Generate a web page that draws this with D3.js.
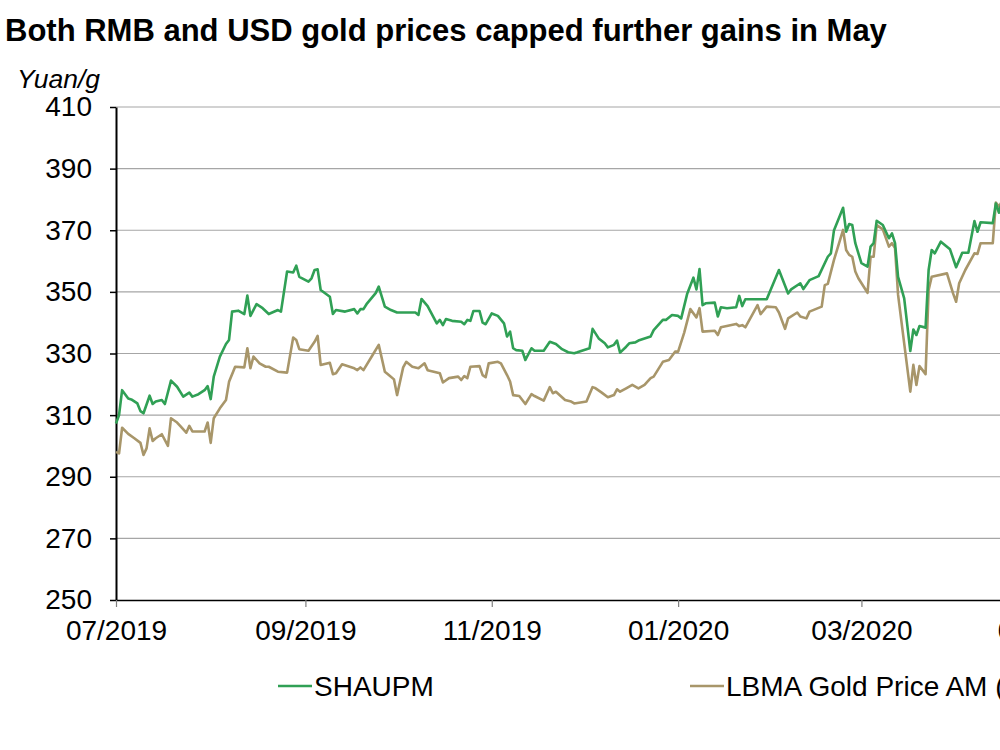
<!DOCTYPE html>
<html>
<head>
<meta charset="utf-8">
<script src="https://cdn.jsdelivr.net/npm/d3@7"></script>
<style>
  body { margin: 0; background: #fff; }
  svg { display: block; font-family: "Liberation Sans", Arial, sans-serif; }
</style>
</head>
<body>
<svg id="chart" width="1000" height="750"></svg>
<script>
// SHAUPM (Yuan/g)
const shaupm = [
  ["2019-07-01", 307.3], ["2019-07-02", 310], ["2019-07-03", 318.1], ["2019-07-05", 315.4],
  ["2019-07-06", 315.1], ["2019-07-08", 313.8], ["2019-07-09", 311.3], ["2019-07-10", 310.6],
  ["2019-07-12", 316.3], ["2019-07-13", 313.6], ["2019-07-14", 314.4], ["2019-07-16", 314.9],
  ["2019-07-17", 313.6], ["2019-07-19", 321.2], ["2019-07-21", 319.2], ["2019-07-23", 316],
  ["2019-07-25", 317.3], ["2019-07-26", 316], ["2019-07-28", 316.8], ["2019-07-30", 318.1],
  ["2019-07-31", 319.4], ["2019-08-01", 315.2], ["2019-08-02", 322.5], ["2019-08-04", 329],
  ["2019-08-06", 333.1], ["2019-08-07", 334.4], ["2019-08-08", 343.6], ["2019-08-10", 343.9],
  ["2019-08-12", 342.8], ["2019-08-13", 348.8], ["2019-08-14", 342.2], ["2019-08-16", 346],
  ["2019-08-18", 344.7], ["2019-08-20", 342.8], ["2019-08-23", 344.1], ["2019-08-24", 343.6],
  ["2019-08-26", 356.6], ["2019-08-28", 356.3], ["2019-08-29", 358.5], ["2019-08-30", 354.9],
  ["2019-09-02", 353.3], ["2019-09-03", 354.4], ["2019-09-04", 357.1], ["2019-09-05", 357.3],
  ["2019-09-06", 350.6], ["2019-09-09", 348.4], ["2019-09-10", 342.8], ["2019-09-11", 344.1],
  ["2019-09-14", 343.6], ["2019-09-17", 344.4], ["2019-09-18", 343], ["2019-09-19", 344.4],
  ["2019-09-20", 344.4], ["2019-09-21", 346], ["2019-09-24", 349.6], ["2019-09-25", 351.7],
  ["2019-09-27", 345.2], ["2019-09-29", 344.1], ["2019-10-01", 343.3], ["2019-10-02", 343.3],
  ["2019-10-07", 343.3], ["2019-10-08", 342.5], ["2019-10-09", 347.7], ["2019-10-11", 345.4],
  ["2019-10-14", 339.8], ["2019-10-15", 340.9], ["2019-10-16", 339.2], ["2019-10-17", 341.2],
  ["2019-10-19", 340.6], ["2019-10-22", 340.3], ["2019-10-23", 339.5], ["2019-10-24", 340.9],
  ["2019-10-25", 340.6], ["2019-10-26", 343.8], ["2019-10-28", 343.8], ["2019-10-29", 340],
  ["2019-10-30", 339.5], ["2019-11-01", 343], ["2019-11-03", 342.2], ["2019-11-05", 339.8],
  ["2019-11-06", 335.5], ["2019-11-07", 337.1], ["2019-11-08", 331.7], ["2019-11-09", 331.1],
  ["2019-11-11", 330.9], ["2019-11-12", 327.9], ["2019-11-14", 331.7], ["2019-11-15", 330.9],
  ["2019-11-18", 330.9], ["2019-11-20", 333.8], ["2019-11-22", 333.1], ["2019-11-24", 331.4],
  ["2019-11-26", 330.4], ["2019-11-28", 330.1], ["2019-11-29", 330.4], ["2019-12-03", 331.7],
  ["2019-12-04", 338], ["2019-12-06", 334.9], ["2019-12-08", 333.3], ["2019-12-09", 332],
  ["2019-12-11", 332.8], ["2019-12-12", 334.2], ["2019-12-13", 330.3], ["2019-12-15", 332.2],
  ["2019-12-16", 333.3], ["2019-12-18", 333.6], ["2019-12-19", 334.2], ["2019-12-23", 335.5],
  ["2019-12-24", 337.6], ["2019-12-27", 340.9], ["2019-12-28", 340.9], ["2019-12-30", 342.5],
  ["2020-01-01", 342.2], ["2020-01-02", 341.4], ["2020-01-04", 349.5], ["2020-01-06", 354.6],
  ["2020-01-07", 350.8], ["2020-01-08", 357.4], ["2020-01-09", 345.7], ["2020-01-10", 346.3],
  ["2020-01-13", 346.5], ["2020-01-14", 342], ["2020-01-15", 345], ["2020-01-17", 344.7],
  ["2020-01-20", 345], ["2020-01-21", 348.7], ["2020-01-22", 345.4], ["2020-01-23", 347.6],
  ["2020-01-30", 347.6], ["2020-02-03", 357.1], ["2020-02-06", 349.5], ["2020-02-07", 350.8],
  ["2020-02-10", 352.8], ["2020-02-11", 350.9], ["2020-02-13", 353.8], ["2020-02-16", 355.1],
  ["2020-02-19", 361.4], ["2020-02-20", 362.5], ["2020-02-21", 369.9], ["2020-02-24", 377.3],
  ["2020-02-25", 369.5], ["2020-02-26", 372], ["2020-02-27", 371.7], ["2020-02-28", 365.8],
  ["2020-03-01", 359.3], ["2020-03-03", 358.2], ["2020-03-04", 364.7], ["2020-03-05", 365.8],
  ["2020-03-06", 373.1], ["2020-03-08", 371.7], ["2020-03-10", 367.4], ["2020-03-11", 369],
  ["2020-03-12", 365.8], ["2020-03-13", 354.9], ["2020-03-15", 347.9], ["2020-03-17", 330.8],
  ["2020-03-18", 337.8], ["2020-03-19", 336], ["2020-03-20", 338.9], ["2020-03-22", 338.4],
  ["2020-03-23", 357.1], ["2020-03-24", 363.6], ["2020-03-25", 362.5], ["2020-03-27", 366.3],
  ["2020-03-30", 363.8], ["2020-04-01", 358], ["2020-04-02", 360.3], ["2020-04-03", 362.7],
  ["2020-04-05", 362.7], ["2020-04-07", 373], ["2020-04-08", 369.5], ["2020-04-09", 372.6],
  ["2020-04-13", 372.3], ["2020-04-14", 378.7], ["2020-04-15", 375.7], ["2020-04-16", 379.3],
  ["2020-04-17", 378], ["2020-04-20", 381]
];

// LBMA Gold Price AM, read against the left axis
const lbma = [
  ["2019-07-01", 298.1], ["2019-07-02", 297.6], ["2019-07-03", 305.9], ["2019-07-05", 303.9],
  ["2019-07-07", 302.5], ["2019-07-09", 301], ["2019-07-10", 297.1], ["2019-07-11", 299.2],
  ["2019-07-12", 305.7], ["2019-07-13", 301.6], ["2019-07-14", 302.5], ["2019-07-16", 303.8],
  ["2019-07-18", 300], ["2019-07-19", 309], ["2019-07-21", 307.6], ["2019-07-22", 306.5],
  ["2019-07-24", 304.3], ["2019-07-25", 306.5], ["2019-07-26", 304.7], ["2019-07-28", 304.7],
  ["2019-07-30", 304.7], ["2019-07-31", 307.6], ["2019-08-01", 301], ["2019-08-02", 309],
  ["2019-08-04", 312.2], ["2019-08-06", 314.9], ["2019-08-07", 320.8], ["2019-08-09", 325.7],
  ["2019-08-12", 325.5], ["2019-08-13", 331.7], ["2019-08-14", 325.2], ["2019-08-15", 329],
  ["2019-08-17", 326.8], ["2019-08-19", 325.7], ["2019-08-20", 325.7], ["2019-08-23", 324.1],
  ["2019-08-26", 323.8], ["2019-08-28", 335.2], ["2019-08-29", 334.4], ["2019-08-30", 331.4],
  ["2019-09-02", 330.9], ["2019-09-04", 333.8], ["2019-09-05", 335.7], ["2019-09-06", 326.3],
  ["2019-09-09", 327], ["2019-09-10", 323.3], ["2019-09-11", 323.6], ["2019-09-13", 326.5],
  ["2019-09-17", 325.2], ["2019-09-18", 324.6], ["2019-09-19", 325.5], ["2019-09-20", 324.6],
  ["2019-09-23", 329.5], ["2019-09-25", 332.8], ["2019-09-27", 324.1], ["2019-09-28", 323.3],
  ["2019-09-30", 321.6], ["2019-10-01", 316.5], ["2019-10-03", 325.5], ["2019-10-04", 327.3],
  ["2019-10-06", 325.7], ["2019-10-08", 325.2], ["2019-10-10", 326.8], ["2019-10-11", 324.6],
  ["2019-10-15", 323.6], ["2019-10-16", 320.6], ["2019-10-18", 322], ["2019-10-21", 322.5],
  ["2019-10-22", 321.4], ["2019-10-23", 322.7], ["2019-10-24", 322], ["2019-10-25", 325.7],
  ["2019-10-28", 325.9], ["2019-10-29", 323], ["2019-10-30", 322.3], ["2019-10-31", 326.8],
  ["2019-11-03", 327.3], ["2019-11-04", 326.8], ["2019-11-06", 323], ["2019-11-07", 320.9],
  ["2019-11-08", 316.5], ["2019-11-10", 316.2], ["2019-11-12", 313.6], ["2019-11-14", 316.8],
  ["2019-11-15", 316.2], ["2019-11-18", 314.7], ["2019-11-20", 319.1], ["2019-11-21", 317.1],
  ["2019-11-22", 317.6], ["2019-11-25", 314.9], ["2019-11-27", 314.4], ["2019-11-28", 313.8],
  ["2019-12-02", 314.4], ["2019-12-04", 319.1], ["2019-12-05", 318.7], ["2019-12-07", 317.3],
  ["2019-12-09", 315.8], ["2019-12-11", 316.5], ["2019-12-12", 318.4], ["2019-12-13", 317.6],
  ["2019-12-15", 318.7], ["2019-12-17", 319.8], ["2019-12-19", 318.7], ["2019-12-21", 319.8],
  ["2019-12-23", 322], ["2019-12-24", 322.5], ["2019-12-27", 327.3], ["2019-12-29", 327.9],
  ["2019-12-31", 330.6], ["2020-01-01", 330.6], ["2020-01-03", 336.8], ["2020-01-05", 344.4],
  ["2020-01-07", 341.7], ["2020-01-08", 344.7], ["2020-01-09", 337.1], ["2020-01-13", 337.4],
  ["2020-01-14", 336], ["2020-01-15", 338.5], ["2020-01-20", 339.6], ["2020-01-21", 338.9],
  ["2020-01-22", 339.2], ["2020-01-23", 338.5], ["2020-01-27", 345.7], ["2020-01-28", 342.8],
  ["2020-01-30", 345.2], ["2020-02-02", 345], ["2020-02-03", 343.3], ["2020-02-05", 338],
  ["2020-02-06", 341.4], ["2020-02-09", 343.3], ["2020-02-10", 342], ["2020-02-12", 341.4],
  ["2020-02-13", 343.6], ["2020-02-17", 345.2], ["2020-02-18", 352.2], ["2020-02-19", 352.6],
  ["2020-02-21", 360.3], ["2020-02-24", 370.1], ["2020-02-25", 363.6], ["2020-02-26", 362],
  ["2020-02-27", 361.4], ["2020-02-28", 356.6], ["2020-02-29", 354.4], ["2020-03-03", 349.7],
  ["2020-03-04", 361.4], ["2020-03-05", 361.4], ["2020-03-06", 371.7], ["2020-03-08", 370.3],
  ["2020-03-10", 364.7], ["2020-03-11", 365.8], ["2020-03-12", 364.2], ["2020-03-13", 349],
  ["2020-03-15", 333.3], ["2020-03-17", 317.6], ["2020-03-18", 326.3], ["2020-03-19", 319.8],
  ["2020-03-20", 325.9], ["2020-03-22", 323.3], ["2020-03-23", 350.6], ["2020-03-24", 354.9],
  ["2020-03-29", 356], ["2020-03-31", 349.5], ["2020-04-01", 346.8], ["2020-04-02", 352.8],
  ["2020-04-04", 357.1], ["2020-04-07", 362.5], ["2020-04-08", 362.3], ["2020-04-09", 365.8],
  ["2020-04-13", 365.8], ["2020-04-14", 379], ["2020-04-15", 377.7], ["2020-04-16", 379.3],
  ["2020-04-17", 378], ["2020-04-20", 380]
];

const yTicks = [250, 270, 290, 310, 330, 350, 370, 390, 410];
const xDomain = ["2019-07-01", "2020-05-31"];
const seriesNames = ["SHAUPM", "LBMA Gold Price AM (USD/oz, RHS)"];
const seriesColors = ["#30a055", "#a8966a"];

const parse = d3.timeParse("%Y-%m-%d");
const svg = d3.select("#chart");

const x = d3.scaleTime()
  .domain(xDomain.map(parse))
  .range([116, 116 + 335 * 3.055]);

const y = d3.scaleLinear()
  .domain([250, 410])
  .range([600, 107]);

// Title
svg.append("text")
  .attr("x", 5)
  .attr("y", 41)
  .style("font-size", "31px")
  .style("font-weight", "bold")
  .style("fill", "#000")
  .text("Both RMB and USD gold prices capped further gains in May");

// Unit label
svg.append("text")
  .attr("x", 17)
  .attr("y", 88)
  .style("font-size", "26.5px")
  .style("font-style", "italic")
  .text("Yuan/g");

// Grid lines
svg.append("g")
  .selectAll("line")
  .data(yTicks.slice(1))
  .join("line")
  .attr("x1", 116)
  .attr("x2", 1000)
  .attr("y1", d => y(d))
  .attr("y2", d => y(d))
  .style("stroke", "#a6a6a6")
  .style("stroke-width", 1.2);

// Y axis
const yAxis = svg.append("g")
  .attr("transform", "translate(116,0)")
  .call(d3.axisLeft(y).tickValues(yTicks).tickSize(6).tickPadding(18).tickSizeOuter(0));
yAxis.select(".domain").style("stroke", "#000").style("stroke-width", 2);
yAxis.selectAll(".tick line").style("stroke", "#000").style("stroke-width", 1.5);
yAxis.selectAll(".tick text")
  .style("font-size", "28px")
  .style("font-family", "'Liberation Sans', Arial, sans-serif")
  .style("fill", "#000");

// X axis
const xAxis = svg.append("g")
  .attr("transform", "translate(0,600)")
  .call(d3.axisBottom(x)
    .ticks(d3.timeMonth.every(2))
    .tickFormat(d3.timeFormat("%m/%Y"))
    .tickSize(7)
    .tickPadding(13)
    .tickSizeOuter(0));
xAxis.select(".domain").style("stroke", "#000").style("stroke-width", 1.5);
xAxis.selectAll(".tick line").style("stroke", "#7f7f7f").style("stroke-width", 1.2);
xAxis.selectAll(".tick text")
  .style("font-size", "28px")
  .style("font-family", "'Liberation Sans', Arial, sans-serif")
  .style("fill", "#000");

// Lines
const line = d3.line()
  .x(d => x(parse(d[0])))
  .y(d => y(d[1]));

[lbma, shaupm].forEach((data, i) => {
  svg.append("path")
    .datum(data)
    .attr("d", line)
    .style("fill", "none")
    .style("stroke", i === 0 ? seriesColors[1] : seriesColors[0])
    .style("stroke-width", 2.6)
    .style("stroke-linejoin", "round");
});

// Legend
const legendX = [278, 690];
const legend = svg.append("g");
seriesNames.forEach((name, i) => {
  const g = legend.append("g").attr("transform", `translate(${legendX[i]},686)`);
  g.append("line")
    .attr("x1", 0).attr("x2", 34)
    .attr("y1", 0).attr("y2", 0)
    .style("stroke", seriesColors[i])
    .style("stroke-width", 2.6);
  g.append("text")
    .attr("x", 36)
    .attr("y", 10)
    .style("font-size", "28px")
    .text(name);
});
</script>
</body>
</html>
